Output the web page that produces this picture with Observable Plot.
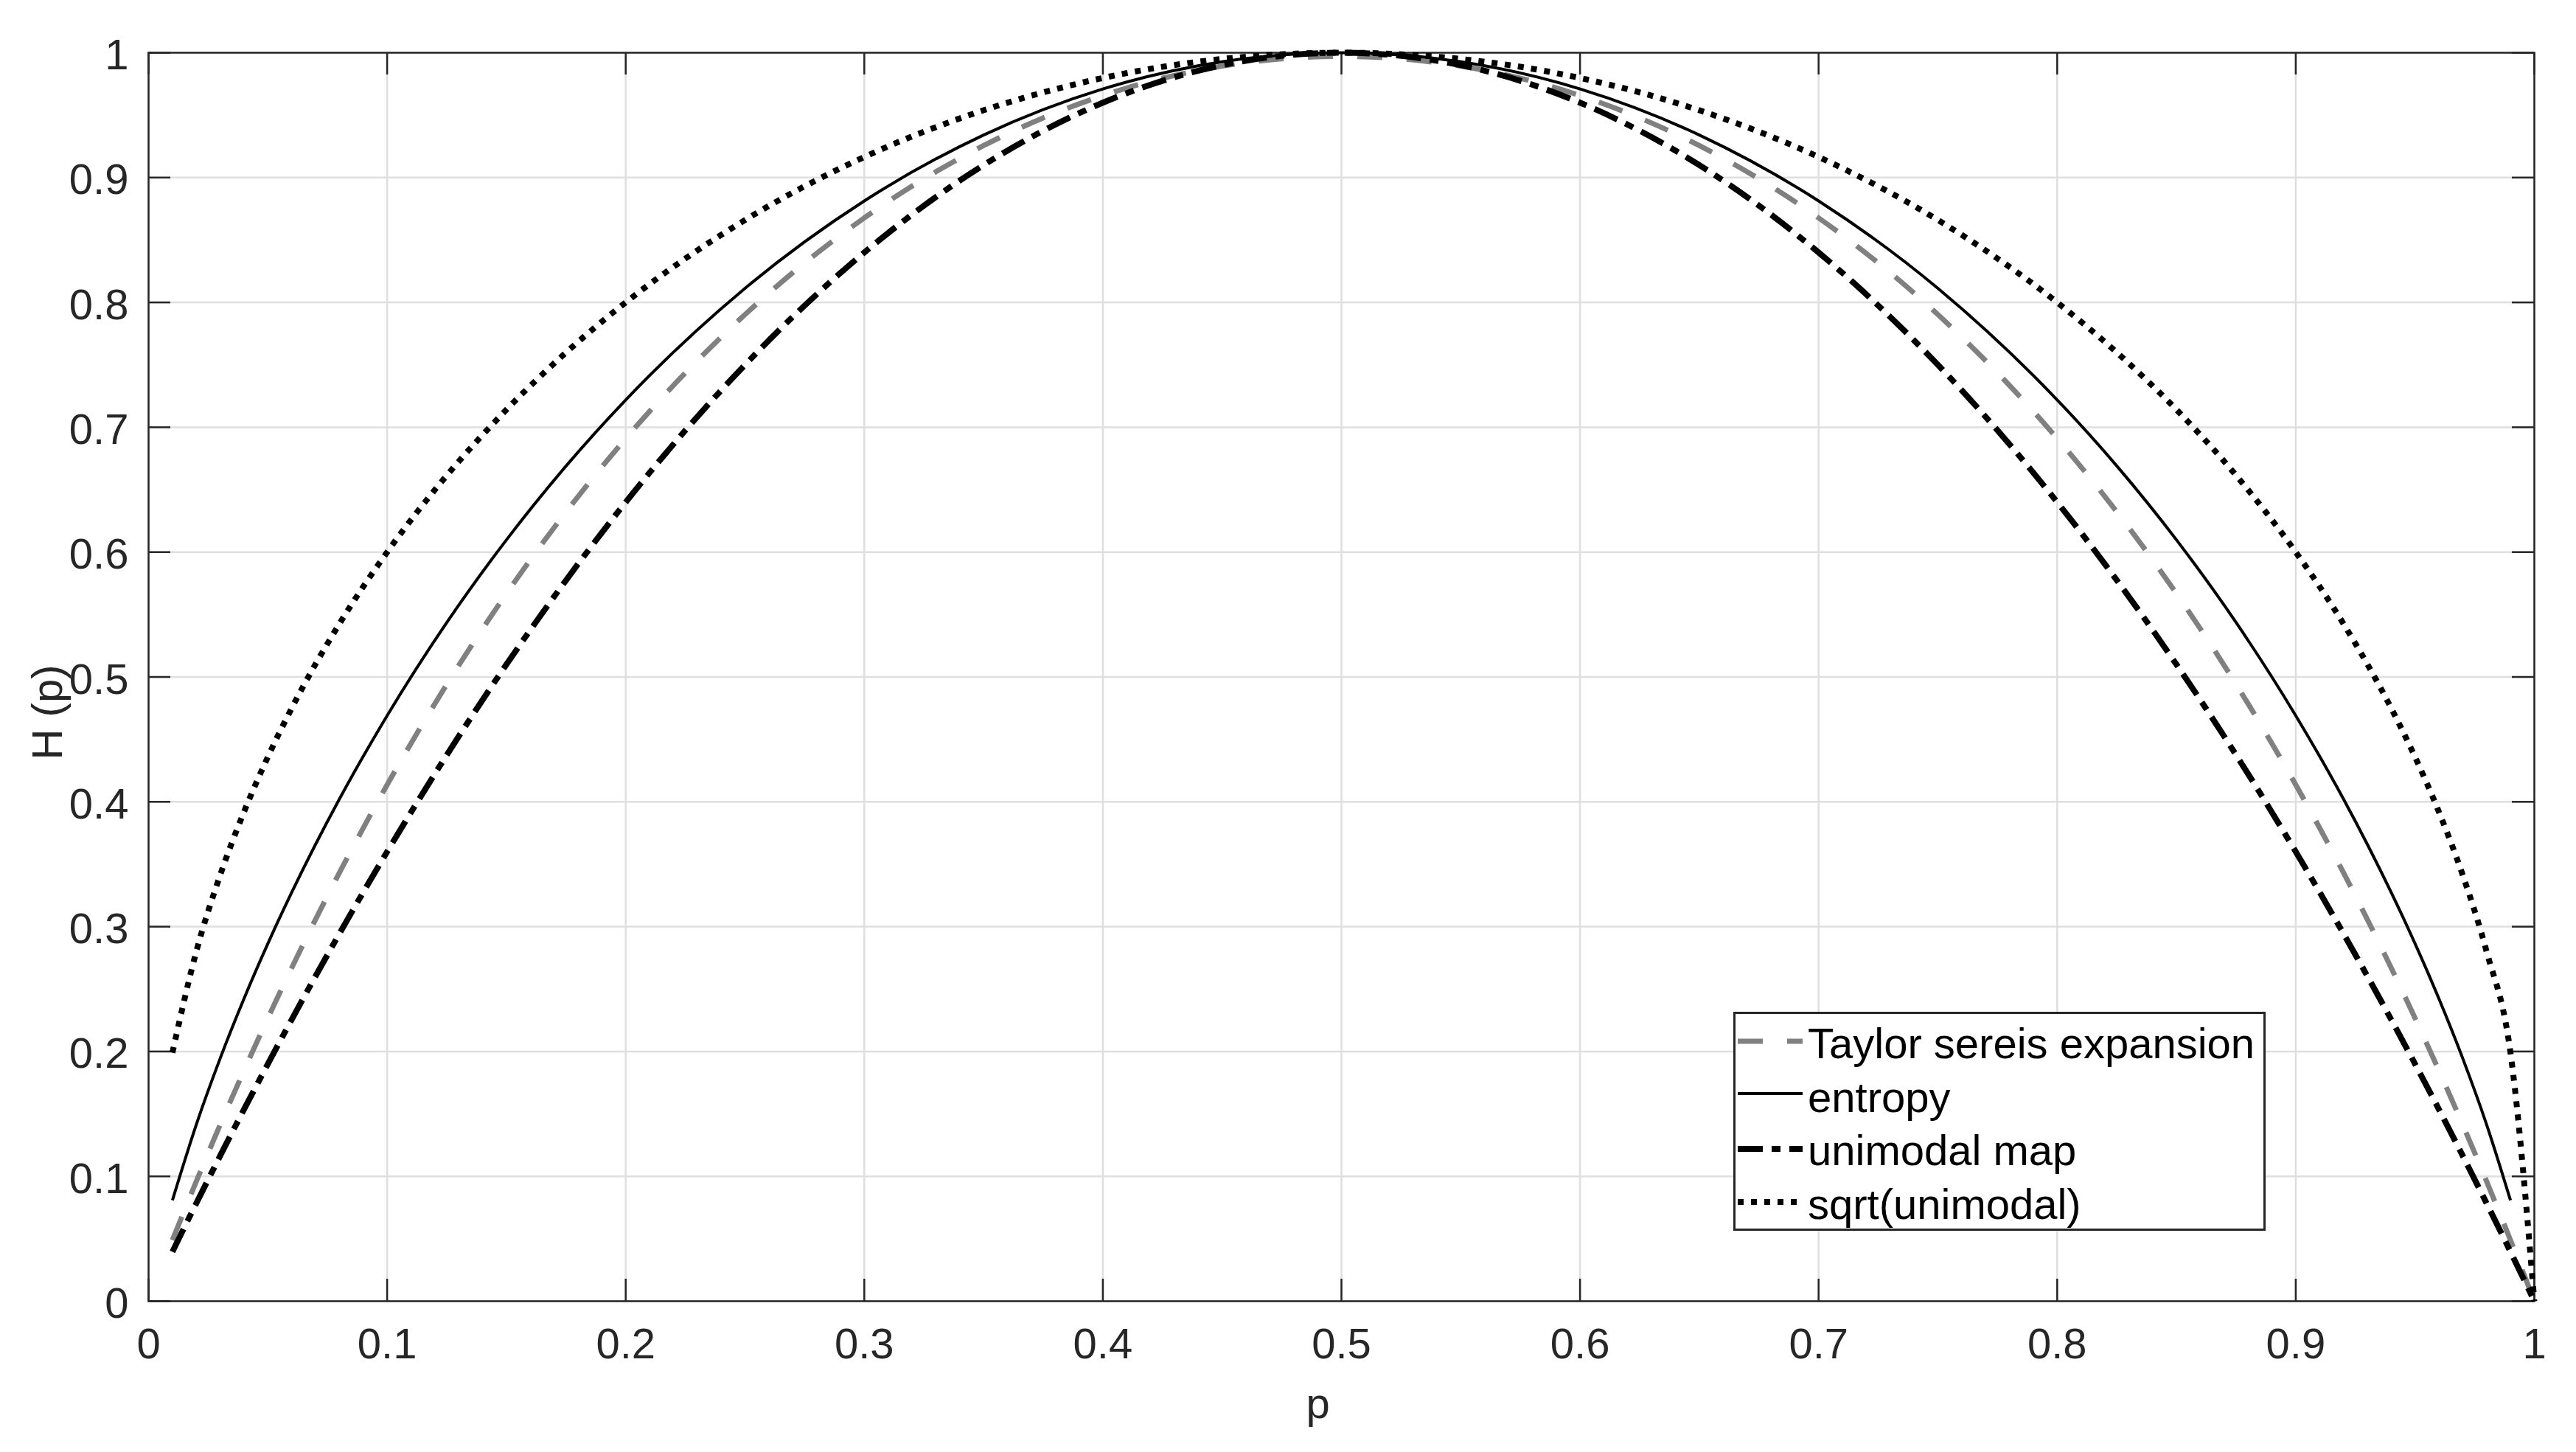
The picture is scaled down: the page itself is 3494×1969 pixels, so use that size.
<!DOCTYPE html>
<html>
<head>
<meta charset="utf-8">
<script src="https://cdn.jsdelivr.net/npm/d3@7"></script>
<script src="https://cdn.jsdelivr.net/npm/@observablehq/plot@0.6"></script>
<style>
  body { margin: 0; background: #fff; }
  #chart { position: relative; width: 3494px; height: 1969px; }
  #legend { position: absolute; left: 2351px; top: 1372px; }
</style>
</head>
<body>
<div id="chart"><svg id="legend" width="722" height="297"></svg></div>
<script>
// valores
const pValues = [0.01, 0.02, 0.03, 0.04, 0.05, 0.06, 0.08, 0.10, 0.125, 0.15, 0.175, 0.2, 0.25, 0.3, 0.35, 0.4, 0.45, 0.5,
  0.55, 0.6, 0.65, 0.7, 0.75, 0.8, 0.825, 0.85, 0.875, 0.9, 0.92, 0.94, 0.95, 0.96, 0.97, 0.98, 0.99, 1.0]

const taylor = [0.0489, 0.0959, 0.1412, 0.1847, 0.2267, 0.2670, 0.3432, 0.4136, 0.4941, 0.5668, 0.6322, 0.6910, 0.7903, 0.8677, 0.9256, 0.9657, 0.9893, 0.9971,
  0.9893, 0.9657, 0.9256, 0.8677, 0.7903, 0.6910, 0.6322, 0.5668, 0.4941, 0.4136, 0.3432, 0.2670, 0.2267, 0.1847, 0.1412, 0.0959, 0.0489, 0]

const entropy = [0.0808, 0.1414, 0.1944, 0.2423, 0.2864, 0.3274, 0.4022, 0.4690, 0.5436, 0.6098, 0.6690, 0.7219, 0.8113, 0.8813, 0.9341, 0.9710, 0.9928, 1.0,
  0.9928, 0.9710, 0.9341, 0.8813, 0.8113, 0.7219, 0.6690, 0.6098, 0.5436, 0.4690, 0.4022, 0.3274, 0.2864, 0.2423, 0.1944, 0.1414, 0.0808, null]

const unimodal = [0.0396, 0.0784, 0.1164, 0.1536, 0.19, 0.2256, 0.2944, 0.36, 0.4375, 0.51, 0.5775, 0.64, 0.75, 0.84, 0.91, 0.96, 0.99, 1.0,
  0.99, 0.96, 0.91, 0.84, 0.75, 0.64, 0.5775, 0.51, 0.4375, 0.36, 0.2944, 0.2256, 0.19, 0.1536, 0.1164, 0.0784, 0.0396, 0]

const sqrtUnimodal = [0.1990, 0.2800, 0.3412, 0.3919, 0.4359, 0.4750, 0.5426, 0.6, 0.6614, 0.7141, 0.7599, 0.8, 0.8660, 0.9165, 0.9539, 0.9798, 0.9950, 1.0,
  0.9950, 0.9798, 0.9539, 0.9165, 0.8660, 0.8, 0.7599, 0.7141, 0.6614, 0.6, 0.5426, 0.4750, 0.4359, 0.3919, 0.3412, 0.2800, 0.1990, 0]

const seriesNames = ['Taylor sereis expansion', 'entropy', 'unimodal map', 'sqrt(unimodal)']

const xTicks = [0, 0.1, 0.2, 0.3, 0.4, 0.5, 0.6, 0.7, 0.8, 0.9, 1]
const xTickLabels = ['0', '0.1', '0.2', '0.3', '0.4', '0.5', '0.6', '0.7', '0.8', '0.9', '1']
const yTicks = [0, 0.1, 0.2, 0.3, 0.4, 0.5, 0.6, 0.7, 0.8, 0.9, 1]
const yTickLabels = ['0', '0.1', '0.2', '0.3', '0.4', '0.5', '0.6', '0.7', '0.8', '0.9', '1']

// estilos de linea (gris discontinua, solida, raya-punto, punteada)
const styles = [
  { stroke: '#808080', strokeWidth: 7, strokeDasharray: '34,33' },
  { stroke: '#000', strokeWidth: 4, strokeDasharray: null },
  { stroke: '#000', strokeWidth: 8, strokeDasharray: '34,12,12,12' },
  { stroke: '#000', strokeWidth: 8, strokeDasharray: '8,10' },
]

const rows = values => pValues.map((p, i) => ({ p, v: values[i] }))
const allSeries = [taylor, entropy, unimodal, sqrtUnimodal].map(rows)

const W = 3494, H = 1969
const mL = 201, mR = 57, mT = 71, mB = 205
const plotW = W - mL - mR, plotH = H - mT - mB
const tick = 30
const axisColor = '#262626'

let chart = Plot.plot({
  width: W,
  height: H,
  marginLeft: mL,
  marginRight: mR,
  marginTop: mT,
  marginBottom: mB,
  style: { fontFamily: '"Liberation Sans", Arial, sans-serif', fontSize: '58px', color: axisColor, background: '#fff' },
  x: { domain: [0, 1], label: null },
  y: { domain: [0, 1], label: null },
  marks: [
    Plot.gridX(xTicks, { stroke: '#dfdfdf', strokeOpacity: 1, strokeWidth: 2.5 }),
    Plot.gridY(yTicks, { stroke: '#dfdfdf', strokeOpacity: 1, strokeWidth: 2.5 }),
    Plot.frame({ stroke: axisColor, strokeWidth: 2.5 }),
    // marcas de tick hacia adentro en los cuatro lados
    Plot.tickX(xTicks, { x: d => d, insetTop: plotH - tick, stroke: axisColor, strokeWidth: 2.5 }),
    Plot.tickX(xTicks, { x: d => d, insetBottom: plotH - tick, stroke: axisColor, strokeWidth: 2.5 }),
    Plot.tickY(yTicks, { y: d => d, insetRight: plotW - tick, stroke: axisColor, strokeWidth: 2.5 }),
    Plot.tickY(yTicks, { y: d => d, insetLeft: plotW - tick, stroke: axisColor, strokeWidth: 2.5 }),
    Plot.axisX(xTicks, {
      tickSize: 0, tickPadding: 36, fontSize: 58, label: null,
      tickFormat: d => xTickLabels[xTicks.indexOf(d)],
    }),
    Plot.axisY(yTicks, {
      tickSize: 0, tickPadding: 27, fontSize: 58, label: null, dy: 4,
      tickFormat: d => yTickLabels[yTicks.indexOf(d)],
    }),
    ...allSeries.map((data, i) =>
      Plot.line(data, {
        x: 'p',
        y: 'v',
        curve: 'monotone-x',
        strokeLinecap: 'butt',
        strokeLinejoin: 'miter',
        ...styles[i],
      }),
    ),
    Plot.text(['p'], { frameAnchor: 'bottom', dx: -32, dy: 158, lineAnchor: 'bottom', fontSize: 58, fill: axisColor }),
    Plot.text(['H (p)'], {
      frameAnchor: 'left', rotate: -90, dx: -118, dy: 48,
      lineAnchor: 'bottom', textAnchor: 'middle', fontSize: 58, fill: axisColor,
    }),
  ],
})

d3.select('#chart').insert(() => chart, '#legend')

// leyenda dentro del area del grafico
const legend = d3.select('#legend')
legend.append('rect')
  .attr('x', 1.5).attr('y', 1.5).attr('width', 719).attr('height', 294)
  .attr('fill', '#fff').attr('stroke', axisColor).attr('stroke-width', 3)
const lineY = [40, 111, 186, 258]
const textY = [63, 136, 208, 281]
seriesNames.forEach((name, i) => {
  legend.append('line')
    .attr('x1', 6).attr('x2', 94).attr('y1', lineY[i]).attr('y2', lineY[i])
    .attr('stroke', styles[i].stroke)
    .attr('stroke-width', styles[i].strokeWidth)
    .attr('stroke-dasharray', styles[i].strokeDasharray)
  legend.append('text')
    .attr('x', 101).attr('y', textY[i])
    .attr('font-family', '"Liberation Sans", Arial, sans-serif')
    .attr('font-size', 58)
    .attr('fill', '#000')
    .text(name)
})
</script>
</body>
</html>
